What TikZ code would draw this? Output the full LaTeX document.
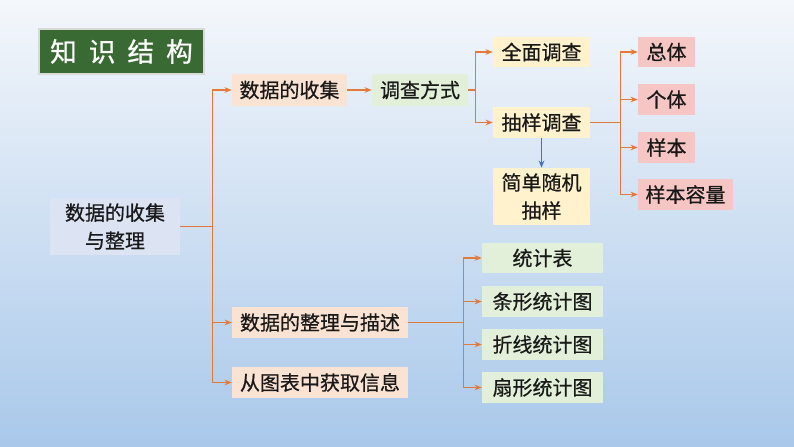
\documentclass[tikz,border=0pt]{standalone}
\usepackage{fontspec}
\setmainfont{Noto Sans CJK SC}
\newfontfamily\boxfont{Noto Sans CJK SC}[FakeBold=0.6]
\newfontfamily\headfont{Noto Sans CJK SC}[FakeBold=0.8]
\usepackage{xcolor}
\usetikzlibrary{arrows.meta}
\definecolor{linkorange}{HTML}{E47A3A}
\definecolor{peach}{HTML}{FBE3D3}
\definecolor{leaf}{HTML}{E2EFD9}
\definecolor{cream}{HTML}{FFF2CC}
\definecolor{rose}{HTML}{F6C6C4}
\definecolor{lilac}{HTML}{DCE3F3}
\definecolor{boardgreen}{HTML}{3A6A33}
\definecolor{skytop}{HTML}{F4F7FB}
\definecolor{skybot}{HTML}{A9C8EA}
\definecolor{downblue}{HTML}{4472C4}
\tikzset{
  box/.style={rectangle, fill=#1, align=center, inner sep=0pt, text=black!90,
              font=\boxfont\fontsize{15}{21}\selectfont},
  box/.default={peach},
  arr/.style={-{Stealth[length=1.9mm,width=1.5mm]}, line width=1.1pt, linkorange},
  downarr/.style={-{Stealth[length=1.9mm,width=1.5mm]}, line width=0.9pt, downblue},
}

\begin{document}
\begin{tikzpicture}[x=0.75pt, y=-0.75pt]
\shade[top color=skytop, bottom color=skybot] (0,0) rectangle (794,447);
\useasboundingbox (0,0) rectangle (794,447);
% heading
\node[rectangle, fill=boardgreen, draw=black!15, line width=1.5pt, minimum width=165*0.75pt,
      minimum height=45*0.75pt, text=white, font=\headfont\fontsize{20}{24}\selectfont] (title) at (121.5,51.5)
  {知\hspace{9pt}识\hspace{9pt}结\hspace{9pt}构};
% root
\node[box=lilac, minimum width=130*0.75pt, minimum height=57*0.75pt] (root) at (115,226.5)
  {数据的收集\\与整理};
% second level
\node[box, minimum width=115*0.75pt, minimum height=32*0.75pt] (collect) at (289.5,90) {数据的收集};
\node[box, minimum width=176*0.75pt, minimum height=31*0.75pt] (arrange) at (320,322.5) {数据的整理与描述};
\node[box, minimum width=176*0.75pt, minimum height=31*0.75pt] (info) at (320,382.5) {从图表中获取信息};
% survey branch
\node[box=leaf, minimum width=96*0.75pt, minimum height=32*0.75pt] (way) at (420,90) {调查方式};
\node[box=cream, minimum width=97*0.75pt, minimum height=30*0.75pt] (full) at (541.5,52) {全面调查};
\node[box=cream, minimum width=97*0.75pt, minimum height=31*0.75pt] (part) at (541.5,122.5) {抽样调查};
\node[box=cream, minimum width=97*0.75pt, minimum height=57*0.75pt] (srs) at (541.5,196.5) {简单随机\\抽样};
\node[box=rose, minimum width=57*0.75pt, minimum height=30*0.75pt] (whole) at (666.5,52) {总体};
\node[box=rose, minimum width=57*0.75pt, minimum height=31*0.75pt] (single) at (666.5,99.5) {个体};
\node[box=rose, minimum width=57*0.75pt, minimum height=31*0.75pt] (sampl) at (666.5,147.5) {样本};
\node[box=rose, minimum width=95*0.75pt, minimum height=31*0.75pt] (ssize) at (685.5,194.5) {样本容量};
% chart branch
\node[box=leaf, minimum width=121*0.75pt, minimum height=30*0.75pt] (tab) at (542.5,258) {统计表};
\node[box=leaf, minimum width=121*0.75pt, minimum height=31*0.75pt] (bar) at (542.5,301.5) {条形统计图};
\node[box=leaf, minimum width=121*0.75pt, minimum height=31*0.75pt] (brok) at (542.5,344.5) {折线统计图};
\node[box=leaf, minimum width=121*0.75pt, minimum height=31*0.75pt] (pie) at (542.5,387.5) {扇形统计图};
% connectors
\foreach \n in {collect,arrange,info}
  \draw[arr] (root.east) -- ++(32,0) |- (\n.west);
\draw[arr] (collect) -- (way);
\foreach \n in {full,part}
  \draw[arr] (way.east) -- ++(7,0) |- (\n.west);
\foreach \n in {whole,single,sampl,ssize}
  \draw[arr] (part.east) -- ++(30,0) |- (\n.west);
\draw[downarr] (part) -- (srs);
\foreach \n in {tab,bar,brok,pie}
  \draw[arr] (arrange.east) -- ++(55,0) |- (\n.west);
\end{tikzpicture}
\end{document}
